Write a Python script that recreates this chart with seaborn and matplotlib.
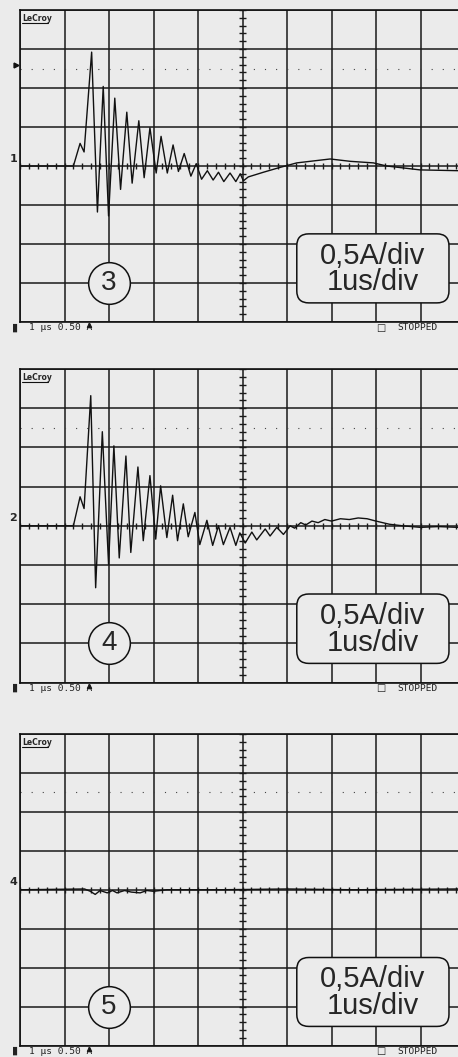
import numpy as np
import pandas as pd
import matplotlib.pyplot as plt
import seaborn as sns
from matplotlib.patches import FancyBboxPatch

# ----------------------
# DATA (read off the three scope captures: time in us, current in A)
# ----------------------
t_3 = [0, 1.20, 1.35, 1.44, 1.61, 1.74, 1.87, 1.99, 2.13, 2.26, 2.40, 2.52, 2.67,
       2.79, 2.92, 3.06, 3.17, 3.31, 3.44, 3.56, 3.69, 3.84, 3.96, 4.08, 4.21,
       4.34, 4.46, 4.58, 4.72, 4.85, 4.95, 5.02, 5.13, 5.30, 5.47, 5.77, 5.96,
       6.22, 6.52, 6.97, 7.42, 7.94, 8.24, 8.69, 8.99, 9.84]
i_3 = [0, 0, 0.29, 0.18, 1.46, -0.59, 1.02, -0.64, 0.87, -0.30, 0.69, -0.22, 0.58,
       -0.15, 0.49, -0.09, 0.38, -0.09, 0.27, -0.07, 0.16, -0.13, 0.03, -0.17, -0.06,
       -0.18, -0.08, -0.20, -0.09, -0.20, -0.10, -0.19, -0.14, -0.11, -0.08, -0.03, 0.0,
       0.04, 0.06, 0.09, 0.06, 0.04, 0.0, -0.03, -0.05, -0.06]

t_4 = [0, 1.20, 1.35, 1.44, 1.59, 1.70, 1.85, 1.99, 2.11, 2.23, 2.38, 2.49, 2.65,
       2.77, 2.92, 3.05, 3.16, 3.30, 3.43, 3.54, 3.67, 3.78, 3.93, 4.04, 4.20,
       4.33, 4.46, 4.57, 4.72, 4.85, 4.94, 5.06, 5.21, 5.32, 5.51, 5.62, 5.77,
       5.92, 6.07, 6.17, 6.31, 6.42, 6.56, 6.70, 6.85, 7.00, 7.20, 7.40, 7.60,
       7.80, 8.00, 8.30, 8.60, 9.00, 9.40, 9.84]
i_4 = [0, 0, 0.37, 0.22, 1.66, -0.79, 1.20, -0.49, 1.02, -0.41, 0.89, -0.34, 0.75,
       -0.19, 0.64, -0.17, 0.51, -0.15, 0.39, -0.19, 0.28, -0.14, 0.17, -0.24, 0.07,
       -0.25, 0.0, -0.24, -0.02, -0.25, -0.09, -0.22, -0.08, -0.18, -0.04, -0.13, -0.02,
       -0.11, 0.0, -0.03, 0.04, 0.01, 0.06, 0.04, 0.08, 0.06, 0.09, 0.08, 0.10,
       0.09, 0.06, 0.02, 0.0, -0.02, -0.01, -0.02]

t_5 = [0, 1.45, 1.58, 1.69, 1.80, 1.96, 2.08, 2.18, 2.35, 2.50, 2.70, 2.85, 3.00,
       3.30, 4.50, 6.00, 7.50, 9.84]
i_5 = [0, 0.01, -0.02, -0.06, -0.01, -0.04, -0.01, -0.04, -0.01, -0.03, -0.04, -0.01, -0.02,
       0.0, 0.0, 0.01, 0.0, 0.01]

traces = [(t_3, i_3), (t_4, i_4), (t_5, i_5)]
panel_labels = ["3", "4", "5"]
trace_numbers = ["1", "2", "4"]
scale_lines = ["0,5A/div", "1us/div"]
status_left = "1 μs 0.50 A"
status_right = "STOPPED"

# ----------------------
# LAYOUT
# ----------------------
W, H = 458, 1057
bg = "#ebebeb"
panel_px = [(10, 322), (369, 682.6), (734, 1045.5)]   # top / bottom of each grid in px
x_max = (W - 20) / 44.5

sns.set_theme(style="white")
plt.rcParams["font.family"] = ["Liberation Sans", "DejaVu Sans"]

fig = plt.figure(figsize=(W / 100, H / 100), dpi=100, facecolor=bg)

for k, (top, bot) in enumerate(panel_px):
    ax = fig.add_axes([20 / W, 1 - bot / H, (W - 20) / W, (bot - top) / H])
    ax.set_facecolor(bg)

    df = pd.DataFrame({"t_us": traces[k][0], "i_A": traces[k][1]})
    sns.lineplot(data=df, x="t_us", y="i_A", ax=ax, color="#111111", lw=1.0,
                 estimator=None, sort=False, zorder=3)

    ax.set_xlim(0, x_max)
    ax.set_ylim(-2, 2)
    ax.set_xticks(np.arange(0, 10, 1))
    ax.set_yticks(np.arange(-2, 2.01, 0.5))
    ax.grid(True, color="#1a1a1a", lw=1.1)
    ax.tick_params(length=0, labelleft=False, labelbottom=False)
    ax.set_xlabel("")
    ax.set_ylabel("")
    for side in ["left", "top", "bottom"]:
        ax.spines[side].set_color("#111111")
        ax.spines[side].set_linewidth(1.2)
    ax.spines["right"].set_visible(False)

    # dotted level line
    ax.axhline(1.25, color="#444444", lw=0.8, ls=(0, (1, 9)), zorder=1)

    # centre-cross minor ticks
    ax.hlines(np.arange(-2, 2.01, 0.1), 5 - 0.07, 5 + 0.07, color="#1a1a1a", lw=1.0, zorder=2)
    ax.vlines(np.arange(0, x_max, 0.2), -0.04, 0.04, color="#1a1a1a", lw=1.0, zorder=2)

    # scope labels
    ax.text(0.004, 0.987, "LeCroy", transform=ax.transAxes, fontsize=5.5,
            weight="bold", family="DejaVu Sans", va="top", ha="left")
    ax.plot([0.004, 0.063], [0.957, 0.957], transform=ax.transAxes,
            color="#111111", lw=0.8)
    ax.text(-0.006, 0.03, trace_numbers[k], transform=ax.get_yaxis_transform(),
            ha="right", va="bottom", fontsize=8, weight="bold", family="DejaVu Sans")
    if k == 0:
        ax.plot([-0.009], [1.30], marker=">", ms=3.5, color="#111111",
                transform=ax.get_yaxis_transform(), clip_on=False)
    ax.plot([1.56], [-2.04], marker="^", ms=3, color="#111111", clip_on=False)

    # circled panel number
    ax.scatter([2], [-1.5], s=900, facecolor=bg, edgecolor="#111111", lw=1.1, zorder=5)
    ax.text(2, -1.5, panel_labels[k], ha="center", va="center", fontsize=20, zorder=6)

    # scale box
    box = FancyBboxPatch((6.22, -1.755), 3.42, 0.885,
                         boxstyle="round,pad=0,rounding_size=0.27",
                         mutation_aspect=44.5 / 78, fc=bg, ec="#111111", lw=1.1, zorder=5)
    ax.add_patch(box)
    ax.text(7.92, -1.15, scale_lines[0], ha="center", va="center", fontsize=21, zorder=6)
    ax.text(7.92, -1.49, scale_lines[1], ha="center", va="center", fontsize=21, zorder=6)

    # status line under the grid
    y_txt = 1 - (bot + 5.5) / H
    fig.text(12 / W, y_txt, "▮", fontsize=8, family="DejaVu Sans", va="center", color="#222222")
    fig.text(29 / W, y_txt, status_left, fontsize=6.8, family="DejaVu Sans Mono",
             va="center", color="#222222")
    fig.text(376 / W, y_txt, "□", fontsize=7, family="DejaVu Sans", va="center", color="#222222")
    fig.text(397 / W, y_txt, status_right, fontsize=6.8, family="DejaVu Sans Mono",
             va="center", color="#222222")

fig.savefig("out.png", dpi=100, facecolor=bg)
